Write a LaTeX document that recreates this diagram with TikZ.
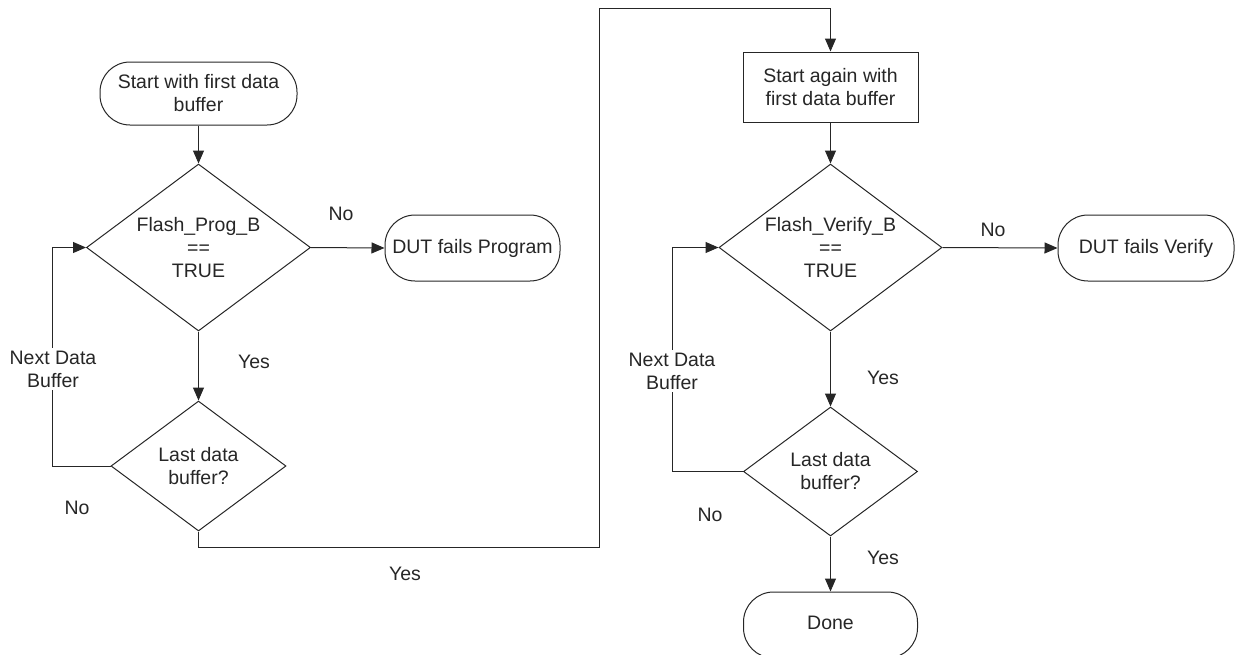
\documentclass[tikz,border=0pt]{standalone}
\usepackage{fontspec}
\setmainfont{Liberation Sans}
\usetikzlibrary{shapes.geometric,arrows.meta}
\definecolor{ink}{HTML}{262626}
\begin{document}
\begin{tikzpicture}[x=1pt,y=-1pt,
  every node/.style={font=\fontsize{19.5}{23}\selectfont, text=ink},
  line/.style={draw=ink, line width=1pt},
  arr/.style={line, -{Triangle[length=13pt,width=11pt]}},
  term/.style={line, rectangle, rounded corners=30pt, inner sep=0pt, align=center},
  procbox/.style={line, rectangle, inner sep=0pt, align=center},
  dia/.style={line, diamond, inner sep=0pt},
  txt/.style={align=center, inner sep=0pt},
  lbl/.style={inner sep=0pt},
  brk/.style={fill=white, align=center, inner sep=3pt}]
\useasboundingbox (0,0) rectangle (1236,654);

% program pass
\node[term, minimum width=197pt, minimum height=63pt] (t1) at (198.5,93.5) {Start with first data\\buffer};
\node[dia, minimum width=224pt, minimum height=167pt] (d1) at (198.5,247.5) {};
\node[txt] (d1t) at (d1) {Flash\_Prog\_B\\==\\TRUE};
\node[term, minimum width=175pt, minimum height=66pt] (f1) at (472.5,248) {DUT fails Program};
\node[dia, minimum width=175pt, minimum height=130pt] (d2) at (198.5,466) {};
\node[txt] (d2t) at (d2) {Last data\\buffer?};

% verify pass
\node[procbox, minimum width=175pt, minimum height=70pt] (b1) at (830.5,87) {Start again with\\first data buffer};
\node[dia, minimum width=223pt, minimum height=167pt] (d3) at (830.5,247.5) {};
\node[txt] (d3t) at (d3) {Flash\_Verify\_B\\==\\TRUE};
\node[term, minimum width=176pt, minimum height=66pt] (f2) at (1146,248) {DUT fails Verify};
\node[dia, minimum width=174pt, minimum height=129pt] (d4) at (830.5,471.5) {};
\node[txt] (d4t) at (d4) {Last data\\buffer?};
\node[term, minimum width=174pt, minimum height=66pt] (done) at (830.5,625) {};
\node[txt] (donet) at (830.5,623) {Done};

% connectors
\coordinate (j1) at (599,547);
\coordinate (j2) at (599,8);
\draw[arr] (t1) -- (d1.north);
\draw[arr] (d1.east) -- (f1.west);
\draw[arr] (d1.south) -- (d2.north);
\draw[arr] (d2.west) -- ++(-58,0) |- (d1.west);
\draw[line] (d2.south) |- (j1) -- (j2);
\draw[arr] (j2) -| (b1.north);
\draw[arr] (b1.south) -- (d3.north);
\draw[arr] (d3.east) -- (f2.west);
\draw[arr] (d3.south) -- (d4.north);
\draw[arr] (d4.west) -- ++(-71,0) |- (d3.west);
\draw[arr] (d4.south) -- (done.north);

% branch labels
\node[brk] (nb1) at (53,369) {Next Data\\Buffer};
\node[brk] (nb2) at (672,371) {Next Data\\Buffer};
\node[lbl] (no1) at (341,214) {No};
\node[lbl] (yes1) at (254,362) {Yes};
\node[lbl] (no2) at (77,508) {No};
\node[lbl] (yes2) at (405,574) {Yes};
\node[lbl] (no3) at (993,230) {No};
\node[lbl] (yes3) at (883,378) {Yes};
\node[lbl] (no4) at (710,515) {No};
\node[lbl] (yes4) at (883,558) {Yes};
\end{tikzpicture}
\end{document}
